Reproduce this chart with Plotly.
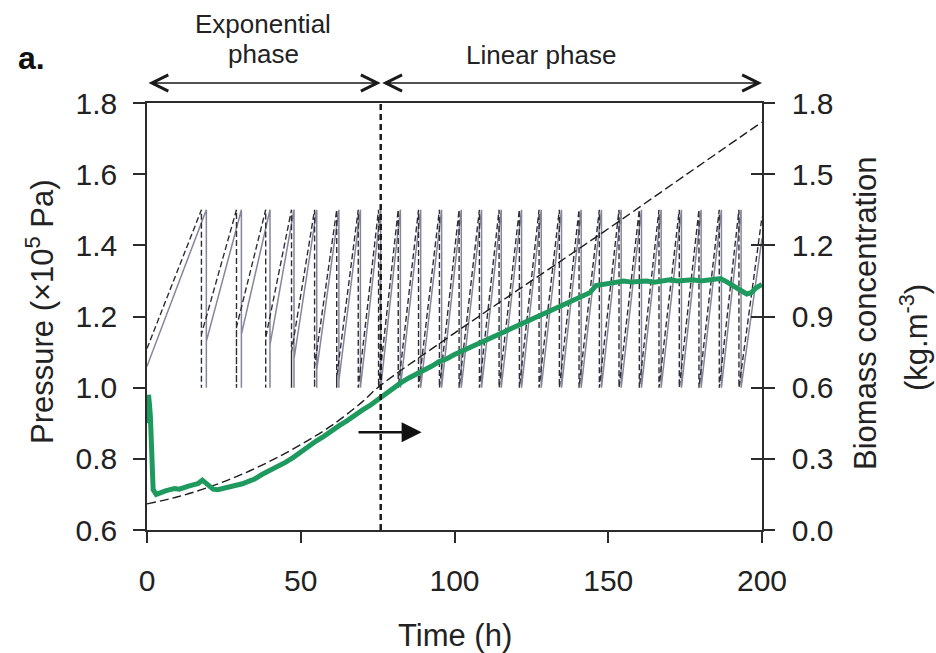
import plotly.graph_objects as go

# ---------------- data ----------------
# Pressure sawtooth (x10^5 Pa): times (h) at which the pressure drops 1.5 -> 1.0
solid_drop_h = [19.3, 30.7, 40.0, 47.8, 55.2, 62.4, 69.4, 76.0, 82.4, 89.0, 95.8,
                102.2, 108.8, 115.2, 121.8, 128.2, 134.8, 141.2, 147.8, 154.2,
                160.8, 167.2, 173.8, 180.2, 186.8, 193.2]
dashed_drop_h = [17.7, 29.1, 38.6, 47.0, 54.5, 61.7, 68.7, 75.3, 81.7, 88.3, 95.1,
                 101.5, 108.1, 114.5, 121.1, 127.5, 134.1, 140.5, 147.1, 153.5,
                 160.1, 166.5, 173.1, 179.5, 186.1, 192.5]
# pressure level reached right after each drop (quick re-pressurisation)
solid_restart = [1.13, 1.15, 1.12, 1.08, 1.05, 1.02, 1.0, 1.0, 1.0, 1.0, 1.0, 1.0, 1.0,
                 1.0, 1.0, 1.0, 1.0, 1.0, 1.0, 1.0, 1.0, 1.0, 1.0, 1.0, 1.0, 1.0]
dashed_restart = [1.15, 1.17, 1.14, 1.10, 1.06, 1.03, 1.0, 1.0, 1.0, 1.0, 1.0, 1.0, 1.0,
                  1.0, 1.0, 1.0, 1.0, 1.0, 1.0, 1.0, 1.0, 1.0, 1.0, 1.0, 1.0, 1.0]
p_high, p_low = 1.5, 1.0
solid_start, solid_end = 1.06, 1.42
dashed_start, dashed_end = 1.11, 1.48

# Biomass concentration, model (dashed) kg/m3
model_t = [0, 10, 20, 30, 40, 50, 60, 70, 75, 100, 125, 150, 175, 200]
model_b = [0.11, 0.14, 0.18, 0.23, 0.29, 0.36, 0.44, 0.54, 0.60, 0.83, 1.05, 1.27, 1.495, 1.72]

# Biomass concentration, measured (green) kg/m3
meas_t = [0.2, 0.5, 0.8, 1.1, 1.5, 2.0, 3, 4.5, 6, 7.5, 9, 10.5, 12, 13.5, 15, 16.5, 18,
          19, 20, 21.5, 23, 25, 27, 29, 31, 33, 35, 37.5, 40, 42.5, 45, 47.5, 50, 52.5,
          55, 57.5, 60, 62.5, 65, 67.5, 70, 72.5, 75, 77.5, 80, 82.5, 85, 87.5, 90, 92.5,
          95, 97.5, 100, 102.5, 105, 107.5, 110, 112.5, 115, 117.5, 120, 122.5, 125,
          127.5, 130, 132.5, 135, 137.5, 140, 142, 144, 146, 148, 150, 152.5, 155,
          157.5, 160, 162.5, 165, 167.5, 170, 172.5, 175, 177.5, 180, 182.5, 185, 186.5,
          188, 190, 192, 193.5, 195, 196.5, 198, 200]
meas_b = [0.45, 0.57, 0.53, 0.48, 0.38, 0.17, 0.15, 0.16, 0.165, 0.17, 0.175, 0.172,
          0.18, 0.185, 0.19, 0.195, 0.21, 0.2, 0.185, 0.172, 0.17, 0.175, 0.18, 0.188,
          0.195, 0.205, 0.215, 0.235, 0.25, 0.27, 0.285, 0.305, 0.33, 0.35, 0.375,
          0.395, 0.42, 0.44, 0.46, 0.485, 0.505, 0.525, 0.55, 0.575, 0.60, 0.62, 0.64,
          0.655, 0.675, 0.69, 0.71, 0.722, 0.74, 0.755, 0.77, 0.785, 0.80, 0.815, 0.83,
          0.845, 0.86, 0.875, 0.89, 0.905, 0.92, 0.935, 0.95, 0.965, 0.98, 0.99, 1.0,
          1.03, 1.035, 1.04, 1.045, 1.05, 1.045, 1.048, 1.05, 1.045, 1.05, 1.055,
          1.05, 1.052, 1.055, 1.05, 1.055, 1.058, 1.06, 1.05, 1.035, 1.02, 1.005, 0.995,
          1.0, 1.02, 1.035, 1.04]

phase_boundary_h = 76
arrow_tail_h, arrow_head_h, arrow_level = 68.3, 89.3, 0.875

x_ticks = [0, 50, 100, 150, 200]
left_ticks = [0.6, 0.8, 1.0, 1.2, 1.4, 1.6, 1.8]
right_ticks = [0.0, 0.3, 0.6, 0.9, 1.2, 1.5, 1.8]


def sawtooth(start, drops, restarts, end):
    xs, ys = [0], [start]
    for td, rs in zip(drops, restarts):
        xs += [td, td, td]
        ys += [p_high, p_low, rs]
    xs.append(200)
    ys.append(end)
    return xs, ys


FONT = "Liberation Sans, Arial, sans-serif"
AX = "#2b2b2b"

fig = go.Figure()
sx, sy = sawtooth(solid_start, solid_drop_h, solid_restart, solid_end)
dx, dy = sawtooth(dashed_start, dashed_drop_h, dashed_restart, dashed_end)
fig.add_trace(go.Scatter(x=sx, y=sy, mode="lines",
                         line=dict(color="#85869a", width=1.5), showlegend=False))
fig.add_trace(go.Scatter(x=dx, y=dy, mode="lines",
                         line=dict(color="#2e2e36", width=1.4, dash="6px,3px"),
                         showlegend=False))
fig.add_trace(go.Scatter(x=model_t, y=model_b, mode="lines", yaxis="y2",
                         line=dict(color="#1e1e1e", width=1.4, dash="9px,4px", shape="spline"),
                         showlegend=False))
fig.add_trace(go.Scatter(x=meas_t, y=meas_b, mode="lines", yaxis="y2",
                         line=dict(color="#1f9a5f", width=5), showlegend=False))
fig.add_trace(go.Scatter(x=[], y=[], yaxis="y3", showlegend=False, hoverinfo="skip"))

tickfont = dict(family=FONT, size=30, color="#222")

fig.update_layout(
    width=936, height=653,
    margin=dict(l=147, r=174, t=103, b=123),
    paper_bgcolor="white", plot_bgcolor="white",
    xaxis=dict(range=[0, 200], tickvals=x_ticks, ticks="outside", ticklen=11,
               tickwidth=1.5, tickcolor=AX, showline=True, linewidth=1.5, linecolor=AX,
               mirror=True, showgrid=False, zeroline=False, tickfont=tickfont,
               ticklabelstandoff=12),
    yaxis=dict(range=[0.6, 1.8], tickvals=left_ticks, tickformat=".1f", ticks="outside",
               ticklen=12, tickwidth=1.5, tickcolor=AX, showline=True, linewidth=1.5,
               linecolor=AX, showgrid=False, zeroline=False, tickfont=tickfont,
               ticklabelstandoff=10),
    yaxis2=dict(range=[0, 1.8], tickvals=right_ticks, tickformat=".1f", ticks="outside",
                ticklen=11, tickwidth=1.5, tickcolor=AX, showline=True, linewidth=1.5,
                linecolor=AX, showgrid=False, zeroline=False, tickfont=tickfont,
                overlaying="y", side="right", ticklabelstandoff=11),
    yaxis3=dict(range=[0, 1.8], tickvals=right_ticks, ticks="inside", ticklen=11,
                tickwidth=1.5, tickcolor=AX, showticklabels=False, showline=False,
                showgrid=False, zeroline=False, overlaying="y", side="right"),
)

fig.add_shape(type="line", xref="x", yref="paper", x0=phase_boundary_h, x1=phase_boundary_h,
              y0=0, y1=1, line=dict(color="#1a1a1a", width=2.5, dash="6px,4px"), layer="above")

ann = []
txt = dict(family=FONT, size=26, color="#222")
ann.append(dict(text="Exponential", xref="paper", yref="paper", x=(263 - 147) / 615,
                y=(530 - 24) / 427, showarrow=False, font=txt, xanchor="center", yanchor="middle"))
ann.append(dict(text="phase", xref="paper", yref="paper", x=(263 - 147) / 615,
                y=(530 - 54) / 427, showarrow=False, font=txt, xanchor="center", yanchor="middle"))
ann.append(dict(text="Linear phase", xref="paper", yref="paper", x=(541 - 147) / 615,
                y=(530 - 55) / 427, showarrow=False, font=txt, xanchor="center", yanchor="middle"))
ann.append(dict(text="<b>a.</b>", xref="paper", yref="paper", x=(31 - 147) / 615,
                y=(530 - 58) / 427, showarrow=False,
                font=dict(family=FONT, size=32, color="#111"), xanchor="center", yanchor="middle"))
# phase arrows (double headed)
arrow_y = (530 - 83) / 427
for a, b in [(0, phase_boundary_h), (phase_boundary_h, 200)]:
    ann.append(dict(x=b, y=arrow_y, ax=a, ay=0, xref="x", yref="paper", axref="x",
                    ayref="pixel", text="", showarrow=True, arrowhead=5, startarrowhead=5,
                    arrowside="end+start", arrowsize=2.0, startarrowsize=2.0,
                    arrowwidth=1.6, arrowcolor="#1a1a1a"))
# small arrow pointing to the right axis
ann.append(dict(x=arrow_head_h, y=arrow_level, ax=arrow_tail_h, ay=arrow_level, xref="x",
                yref="y", axref="x", ayref="y", text="", showarrow=True, arrowhead=2,
                arrowsize=1.6, arrowwidth=2.5, arrowcolor="#111"))
# axis titles
ttl = dict(family=FONT, size=31, color="#222")
ann.append(dict(text="Time (h)", xref="paper", yref="paper", x=(455 - 147) / 615,
                y=(530 - 635) / 427, showarrow=False, font=ttl, xanchor="center", yanchor="middle"))
ann.append(dict(text="Pressure (×10<sup>5</sup> Pa)", xref="paper", yref="paper",
                x=(40 - 147) / 615, y=(530 - 312) / 427, showarrow=False, font=ttl,
                textangle=-90, xanchor="center", yanchor="middle"))
ann.append(dict(text="Biomass concentration", xref="paper", yref="paper",
                x=(865 - 147) / 615, y=(530 - 313) / 427, showarrow=False, font=ttl,
                textangle=-90, xanchor="center", yanchor="middle"))
ann.append(dict(text="(kg.m<sup>-3</sup>)", xref="paper", yref="paper",
                x=(914 - 147) / 615, y=(530 - 338) / 427, showarrow=False, font=ttl,
                textangle=-90, xanchor="center", yanchor="middle"))
fig.update_layout(annotations=ann)

fig.write_html("out.html", config={"displayModeBar": False},
               post_script="document.body.style.margin='0';document.body.style.overflow='hidden';")
